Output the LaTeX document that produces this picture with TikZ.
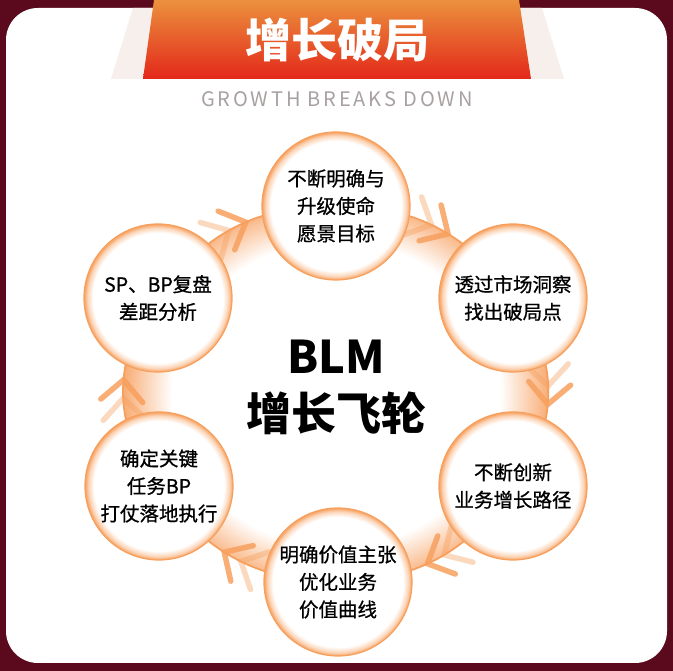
\documentclass[tikz,border=0pt]{standalone}
\usepackage{fontspec}
\usepackage{tikz}
\usetikzlibrary{shapes, positioning, calc, decorations.markings}
\newfontfamily\cjk{Noto Sans CJK SC}
\newfontfamily\cjkmed[FakeBold=0.8]{Noto Sans CJK SC}
\newfontfamily\spaced[LetterSpace=14]{Noto Sans CJK SC}
\definecolor{maroon}{HTML}{5A0A1C}
\definecolor{rim}{HTML}{F7A05E}
\definecolor{glow}{HTML}{F8AC74}
\definecolor{bannertop}{HTML}{EB913D}
\definecolor{bannerbot}{HTML}{E3281A}
\definecolor{haze}{HTML}{F7EFEC}
\definecolor{subgray}{HTML}{A9A1A1}
\pgfdeclareradialshading{ballglow}{\pgfpoint{0bp}{0bp}}{color(0bp)=(white); color(22bp)=(white); color(23.8bp)=(rim!45!white); color(25bp)=(rim); color(50bp)=(rim)}
\pgfdeclareradialshading{ringglow}{\pgfpoint{0bp}{0bp}}{color(0bp)=(white); color(18.5bp)=(white); color(24bp)=(glow); color(50bp)=(glow)}

\begin{document}
\begin{tikzpicture}[x=1pt, y=1pt,
        ball/.style={circle, minimum size=148pt, draw=rim, line width=1.2pt, shading=ballglow, align=center, inner sep=0pt, font=\cjkmed\fontsize{19.5}{27.5}\selectfont},
        ringline/.style={draw=rim, line width=1.8pt},
        chevron/.style={draw=rim, line width=5.5pt, line cap=round, line join=miter},
        twochev/.style={postaction={decorate}, decoration={markings,
            mark=at position 0.47 with {\draw[chevron, opacity=0.4] (-21,21) -- (0,0) -- (-21,-21);},
            mark=at position 0.56 with {\draw[chevron, opacity=0.85] (-21,21) -- (0,0) -- (-21,-21);}}}]

        \useasboundingbox (0,0) rectangle (673,671);

        % Card and banner
        \fill[maroon] (0,0) rectangle (673,671);
        \fill[white, rounded corners=32] (6,8) rectangle (667,663);
        \fill[haze] (133,663) -- (542,663) -- (564,592) -- (111,592) -- cycle;
        \shade[top color=bannertop, bottom color=bannerbot] (154,671) -- (519,671) -- (531,592) -- (143,592) -- cycle;
        \node[font=\cjk\bfseries\fontsize{46}{46}\selectfont, text=white] (title) at (337,631) {增长破局};
        \node[font=\spaced\fontsize{20}{20}\selectfont, text=subgray] (subtitle) at (337,572) {GROWTH BREAKS DOWN};

        % Ring
        \coordinate (ring) at (336,277);
        \coordinate (p1) at (336,465);
        \coordinate (p2) at (513,373);
        \coordinate (p3) at (513,185);
        \coordinate (p4) at (338,89);
        \coordinate (p5) at (159,185);
        \coordinate (p6) at (158,373);

        \foreach \a/\b/\bend in {p6/p1/28, p1/p2/28, p2/p3/40, p3/p4/28, p4/p5/28, p5/p6/40}{
            \begin{scope}
                \clip (\a) to[bend left=\bend] (\b) -- (ring) -- cycle;
                \shade[shading=ringglow] (ring) ellipse [x radius=222, y radius=206];
            \end{scope}
            \draw[ringline, twochev] (\a) to[bend left=\bend] (\b);
        }

        % Steps
        \node[ball] (vision) at (p1) {不断明确与\\升级使命\\愿景目标};
        \node[ball] (insight) at (p2) {透过市场洞察\\找出破局点};
        \node[ball] (innovate) at (p3) {不断创新\\业务增长路径};
        \node[ball] (value) at (p4) {明确价值主张\\优化业务\\价值曲线};
        \node[ball] (execute) at (p5) {确定关键\\任务BP\\打仗落地执行};
        \node[ball] (review) at (p6) {SP、BP复盘\\差距分析};

        \node[font=\cjk\bfseries\fontsize{45}{57}\selectfont, align=center] (core) at (336,284) {BLM\\增长飞轮};

    \end{tikzpicture}
\end{document}
